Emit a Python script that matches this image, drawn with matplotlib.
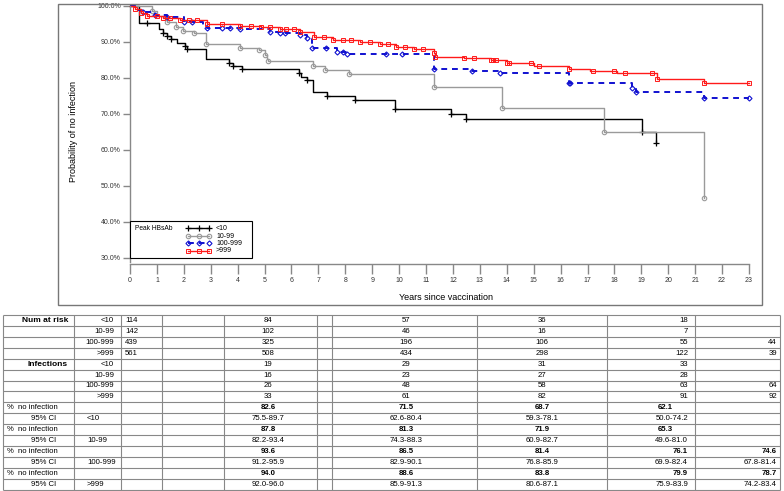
import numpy as np
import matplotlib
matplotlib.use("Agg")
import matplotlib.pyplot as plt
from matplotlib.lines import Line2D
from matplotlib.patches import Rectangle

plt.rcParams['font.family'] = ['Liberation Sans', 'DejaVu Sans']

# Kaplan-Meier steps: years since vaccination / % with no infection
t_lt10 = [0, 0.35, 1.09, 1.24, 1.36, 1.51, 1.73, 2.04, 2.12, 2.82, 3.69, 3.81, 4.15,
          6.29, 6.34, 6.59, 6.81, 7.31, 8.36, 9.83, 11.92, 12.49, 19.03, 19.54]
s_lt10 = [100, 95.2, 93.5, 92.4, 91.7, 90.7, 89.8, 88.9, 88.0, 85.2, 84.3, 83.4, 82.5,
          81.3, 80.4, 79.4, 76.2, 75.0, 73.9, 71.4, 69.9, 68.6, 65.1, 62.0]
c_lt10 = [0.62, 1.24, 1.36, 1.51, 2.04, 2.12, 3.69, 3.81, 4.15, 6.29, 6.59, 7.31,
          8.36, 9.83, 11.92, 12.49, 19.03, 19.54]

t_10_99 = [0, 0.81, 1.0, 1.36, 1.71, 1.96, 2.36, 2.82, 4.09, 4.8, 5.02, 5.08, 5.14,
           6.79, 7.25, 8.15, 11.31, 13.82, 17.6, 21.34]
s_10_99 = [100, 98.5, 97.2, 95.6, 94.1, 93.1, 92.4, 89.4, 88.4, 87.8, 86.4, 85.2, 84.8,
           83.3, 82.2, 81.1, 77.4, 71.8, 65.1, 46.6]
c_10_99 = [0.81, 1.36, 1.71, 1.96, 2.36, 2.82, 4.09, 4.8, 5.02, 5.14, 6.79, 7.25, 8.15,
           11.31, 13.82, 17.6, 21.34]

t_100_999 = [0, 0.3, 0.5, 0.93, 1.36, 2.0, 2.73, 2.85, 4.09, 5.2, 5.57, 6.32, 6.57, 6.78,
             7.68, 8.05, 11.31, 12.7, 13.76, 16.3, 18.65, 18.8, 21.34, 23.0]
s_100_999 = [100, 99.0, 98.4, 97.6, 97.0, 95.6, 94.7, 93.8, 93.6, 92.9, 92.4, 91.9, 91.0, 88.4,
             87.3, 86.6, 82.5, 82.0, 81.3, 78.5, 77.1, 76.0, 74.5, 74.5]
c_100_999 = [0.5, 0.93, 1.36, 2.0, 2.3, 2.85, 3.4, 3.7, 4.09, 5.2, 5.57, 5.75, 6.32, 6.57,
             6.78, 7.3, 7.68, 7.9, 8.05, 9.5, 10.1, 11.31, 12.7, 13.76, 16.3, 16.35,
             18.65, 18.8, 21.34, 23.0]

t_gt999 = [0, 0.2, 0.4, 0.65, 1.24, 1.86, 2.85, 4.1, 4.85, 5.57, 6.3, 6.82, 7.56, 8.55,
           9.3, 9.9, 10.54, 11.28, 11.35, 12.4, 13.4, 14.0, 15.0, 16.3, 17.1, 18.1, 19.6,
           21.34, 23.0]
s_gt999 = [100, 99.3, 98.0, 97.2, 96.6, 96.1, 94.9, 94.4, 94.1, 93.6, 92.9, 91.3, 90.6, 90.1,
           89.4, 88.6, 88.0, 86.9, 85.9, 85.6, 85.0, 84.1, 83.4, 82.5, 82.0, 81.3, 79.8,
           78.7, 78.7]
c_gt999 = [0.2, 0.4, 0.65, 1.0, 1.24, 1.5, 1.86, 2.2, 2.48, 2.85,
           3.4, 4.1, 4.5, 4.85, 5.2, 5.57, 5.8, 6.1, 6.3, 6.82, 7.2, 7.56, 7.9, 8.2, 8.55,
           8.9, 9.3, 9.6, 9.9, 10.2, 10.54, 10.9, 11.28, 11.35, 12.4, 12.8, 13.4, 13.5,
           13.6, 14.0, 14.1, 14.9, 15.2, 16.3, 17.2, 18.0, 18.4, 19.4, 19.6, 21.34, 23.0]

# table below the chart
groups = ['<10', '10-99', '100-999', '>999']
at_risk_0 = [114, 142, 439, 561]
at_risk = [[84, 57, 36, 18, None], [102, 46, 16, 7, None],
           [325, 196, 106, 55, 44], [508, 434, 298, 122, 39]]
infections = [[19, 29, 31, 33, None], [16, 23, 27, 28, None],
              [26, 48, 58, 63, 64], [33, 61, 82, 91, 92]]
pct_free = [['82.6', '71.5', '68.7', '62.1', None], ['87.8', '81.3', '71.9', '65.3', None],
            ['93.6', '86.5', '81.4', '76.1', '74.6'], ['94.0', '88.6', '83.8', '79.9', '78.7']]
ci_95 = [['75.5-89.7', '62.6-80.4', '59.3-78.1', '50.0-74.2', None],
         ['82.2-93.4', '74.3-88.3', '60.9-82.7', '49.6-81.0', None],
         ['91.2-95.9', '82.9-90.1', '76.8-85.9', '69.9-82.4', '67.8-81.4'],
         ['92.0-96.0', '85.9-91.3', '80.6-87.1', '75.9-83.9', '74.2-83.4']]

W, H = 784, 491
fig = plt.figure(figsize=(W / 100, H / 100), dpi=100)

# frame around the survival plot
fig.patches.append(Rectangle((58 / W, 1 - 305 / H), 704 / W, 301 / H, transform=fig.transFigure,
                             fill=False, edgecolor='#777777', lw=1.0))

ax = fig.add_axes([130 / W, 1 - 258 / H, 619 / W, 252 / H])
ax.set_facecolor('none')

styles = [
    dict(color='black', ls='-', marker='+', ms=4, mew=0.9),
    dict(color='#9a9a9a', ls='-', marker='o', ms=3.2, mew=0.8),
    dict(color='#1010d0', ls=(0, (3, 2.5)), marker='D', ms=2.6, mew=0.8),
    dict(color='#ff1a1a', ls='-', marker='s', ms=3.4, mew=0.7),
]
curves = [(t_lt10, s_lt10, c_lt10), (t_10_99, s_10_99, c_10_99),
          (t_100_999, s_100_999, c_100_999), (t_gt999, s_gt999, c_gt999)]

for (tt, ss, cc), st in zip(curves, styles):
    tt = np.array(tt)
    ss = np.array(ss)
    lw = 1.4 if st['marker'] == 'D' else 1.0
    ax.step(tt, ss, where='post', color=st['color'], ls=st['ls'], lw=lw, clip_on=False)
    idx = np.searchsorted(tt, np.array(cc), side='right') - 1
    ax.plot(cc, ss[idx], ls='none', marker=st['marker'], ms=st['ms'], mew=st['mew'],
            mec=st['color'], mfc='none', clip_on=False)

ax.set_xlim(0, 23)
ax.set_ylim(30, 100)
ax.set_xticks(np.arange(0, 24))
ax.set_yticks(np.arange(30, 101, 10))
ax.set_yticklabels([f'{v:.1f}%' for v in np.arange(30, 101, 10)])
for s in ['top', 'right']:
    ax.spines[s].set_visible(False)
ax.spines['bottom'].set_position(('outward', 4))
for s in ['left', 'bottom']:
    ax.spines[s].set_color('#888888')
    ax.spines[s].set_linewidth(1.0)
# join the y axis line down to the offset x axis
ax.add_line(Line2D([0, 0], [0, -4 / 252], transform=ax.transAxes, color='#888888',
                   lw=1.0, clip_on=False))
ax.tick_params(axis='x', direction='out', length=7, width=1.0, color='#888888',
               labelsize=5, labelcolor='#333333', pad=3)
ax.tick_params(axis='y', direction='out', length=5, width=1.0, color='#888888',
               labelsize=5, labelcolor='#333333', pad=1.5)
ax.set_xlabel('Years since vaccination', fontsize=6.5)
ax.set_ylabel('Probability of no infection', fontsize=6.5, labelpad=14)
ax.xaxis.set_label_coords(0.51, -0.138)

# legend box
ax.add_patch(Rectangle((0.0, 0.0), 0.197, 0.147, transform=ax.transAxes, facecolor='white',
                       edgecolor='black', lw=0.8, zorder=5, clip_on=False))
ax.text(0.008, 0.117, 'Peak HBsAb', transform=ax.transAxes, fontsize=4.8, va='center', zorder=6)
leg_y = [0.118, 0.087, 0.058, 0.028]
for lab, st, yy in zip(groups, styles, leg_y):
    lw = 1.4 if st['marker'] == 'D' else 1.0
    ax.add_line(Line2D([0.094, 0.111, 0.128], [yy] * 3, transform=ax.transAxes,
                       color=st['color'], ls=st['ls'], lw=lw, marker=st['marker'], ms=st['ms'],
                       mew=st['mew'], mfc='none', zorder=6))
    ax.text(0.139, yy, lab, transform=ax.transAxes, fontsize=5, va='center', zorder=6)

# ---- table ----
tab = fig.add_axes([0, 0, 1, 1], zorder=-1)
tab.set_xlim(0, W)
tab.set_ylim(H, 0)
tab.axis('off')

top = 314.8
rh = 10.95
nrows = 16
vx = [3, 74, 121, 162, 224, 317, 332, 477, 607, 695, 780]
tab.hlines([top + i * rh for i in range(nrows + 1)], vx[0], vx[-1], color='#888888', lw=0.8)
tab.vlines(vx, top, top + nrows * rh, color='#888888', lw=0.8)

fs = 5.6
col_x = [268, 406, 542, 688, 777]
col_ha = ['center', 'center', 'center', 'right', 'right']


def cell(row, x, txt, ha='center', bold=False, size=fs):
    if txt is None:
        return
    tab.text(x, top + (row + 0.5) * rh, str(txt), ha=ha, va='center', fontsize=size,
             fontweight='bold' if bold else 'normal')


def value_row(row, vals, bold=False, mid20=False):
    for j, v in enumerate(vals):
        x, ha = col_x[j], col_ha[j]
        if mid20 and j == 3:
            x, ha = 665, 'center'
        cell(row, x, v, ha=ha, bold=bold)


cell(0, 68, 'Num at risk', ha='right', bold=True, size=6)
cell(4, 68, 'Infections', ha='right', bold=True, size=6)
for g in range(4):
    cell(g, 114, groups[g], ha='right')
    cell(g, 125, at_risk_0[g], ha='left')
    value_row(g, at_risk[g])
    cell(4 + g, 114, groups[g], ha='right')
    value_row(4 + g, infections[g])
    r = 8 + 2 * g
    cell(r, 7, '%  no infection', ha='left')
    cell(r + 1, 56, '95% CI', ha='right')
    cell(r + 1, 87, groups[g], ha='left')
    value_row(r, pct_free[g], bold=True, mid20=(g < 2))
    value_row(r + 1, ci_95[g])

fig.savefig('out.png', dpi=100)
